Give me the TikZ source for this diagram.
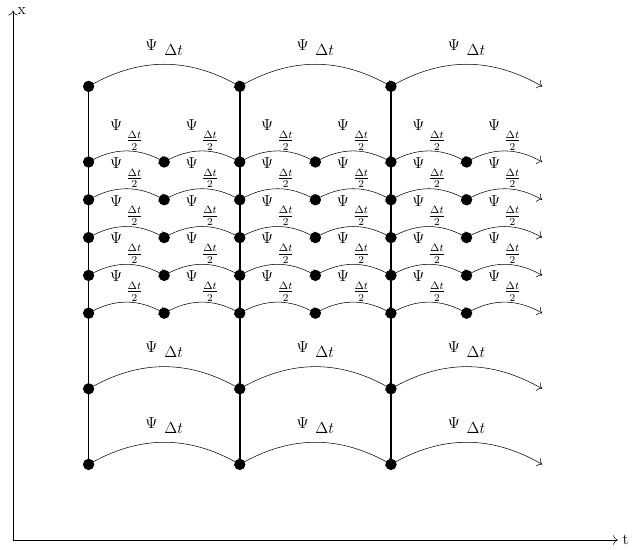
\documentclass[tikz,border=0pt]{standalone}
\usetikzlibrary{arrows.meta}
\newcommand{\fulllbl}{$\Psi$\hspace{5pt}\raisebox{-3.8pt}{$\Delta t$}}
\newcommand{\halflbl}{$\Psi$\hspace{3pt}\raisebox{-10.6pt}{$\frac{\Delta t}{2}$}}
\begin{document}
\begin{tikzpicture}[
  every node/.style={font=\large},
  tip/.style={-{To[length=3.5pt,width=7pt]}},
  dot/.style={circle,fill=black,inner sep=0pt,minimum size=0.3cm},
  vline/.style={line width=1.1pt},
  arcline/.style={tip,bend left=30},
  lbl/.style={midway,above,inner sep=0.5pt},
  flbl/.style={midway,above,inner sep=2pt,yshift=4.5pt}
]
\useasboundingbox (-0.344,-0.238) rectangle (16.455,14.286);
% axes
\coordinate (O) at (0,0);
\coordinate (T) at (16,0);
\coordinate (X) at (0,14);
\draw[tip] (O) -- (T) node[right] {t};
\draw[tip] (O) -- (X) node[right] {x};
% vertical lines
\foreach \c in {2,6,10}{
  \coordinate (b\c) at (\c,2);
  \coordinate (t\c) at (\c,12);
  \draw[vline] (b\c) -- (t\c);
}
% full rows
\foreach \r in {12,4,2}{
  \foreach \c/\n in {2/6,6/10,10/14}{
    \coordinate (f\c-\r) at (\c,\r);
    \coordinate (g\c-\r) at (\n,\r);
    \draw[arcline] (f\c-\r) to node[flbl] {\fulllbl} (g\c-\r);
  }
}
% half rows
\foreach \r in {10,9,8,7,6}{
  \foreach \c/\n in {2/4,4/6,6/8,8/10,10/12,12/14}{
    \coordinate (h\c-\r) at (\c,\r);
    \coordinate (k\c-\r) at (\n,\r);
    \draw[arcline] (h\c-\r) to node[lbl] {\halflbl} (k\c-\r);
  }
}
% dots
\foreach \r in {12,10,9,8,7,6,4,2}{
  \foreach \c in {2,6,10}{
    \node[dot] (d\c-\r) at (\c,\r) {};
  }
}
\foreach \r in {10,9,8,7,6}{
  \foreach \c in {4,8,12}{
    \node[dot] (m\c-\r) at (\c,\r) {};
  }
}
\end{tikzpicture}
\end{document}
